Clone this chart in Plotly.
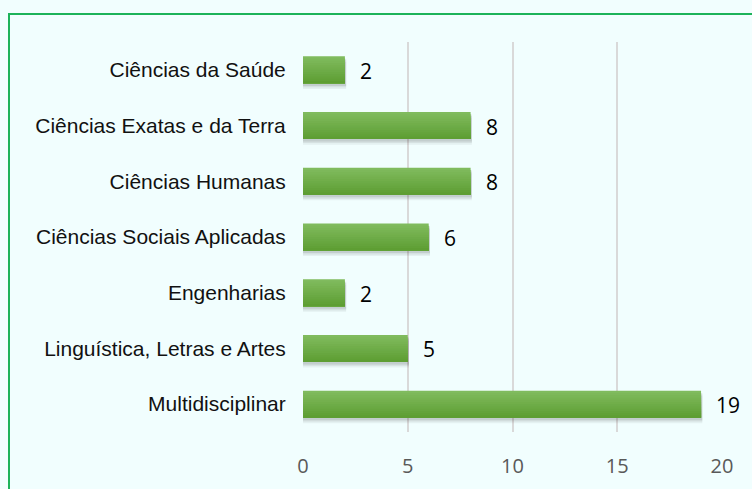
import plotly.graph_objects as go

categories = ["Ciências da Saúde", "Ciências Exatas e da Terra", "Ciências Humanas",
              "Ciências Sociais Aplicadas", "Engenharias", "Linguística, Letras e Artes",
              "Multidisciplinar"]
values = [2, 8, 8, 6, 2, 5, 19]
x_ticks = [0, 5, 10, 15, 20]

W, H = 752, 489
L, R, T, B = 303, 30, 42, 57
pw, ph = W - L - R, H - T - B

pos = list(range(len(categories)))
BW = 0.485

fig = go.Figure()
# soft shadow (a few translucent layers)
for dy, a in [(0.10, 0.06), (0.07, 0.08), (0.045, 0.10)]:
    fig.add_trace(go.Bar(
        x=[v + 0.06 for v in values], y=pos, orientation="h", width=BW,
        offset=-BW / 2 + dy,
        marker=dict(color=f"rgba(40,40,40,{a})", line=dict(width=0)),
        hoverinfo="skip", showlegend=False,
    ))

# gradient bar: each layer runs from its start down to the bar bottom (no seams)
n = 12
c_top = (0x80, 0xBB, 0x5E)
c_bot = (0x5E, 0x9E, 0x33)
for k in range(n):
    t = k / (n - 1)
    col = tuple(round(c_top[j] + (c_bot[j] - c_top[j]) * t) for j in range(3))
    start = k * BW / n
    fig.add_trace(go.Bar(
        x=values, y=pos, orientation="h", width=BW - start,
        offset=-BW / 2 + start,
        marker=dict(color="rgb(%d,%d,%d)" % col, line=dict(width=0)),
        hoverinfo="skip", showlegend=False,
    ))

annotations = [dict(x=v, y=p, xref="x", yref="y", text=str(v), showarrow=False,
                    xanchor="left", yanchor="middle", xshift=13, yshift=-1,
                    font=dict(family="Open Sans", size=21, color="#000000"))
               for v, p in zip(values, pos)]

fig.update_layout(
    width=W, height=H, barmode="overlay",
    margin=dict(l=L, r=R, t=T, b=B, autoexpand=False),
    paper_bgcolor="#F1FEFE", plot_bgcolor="#F1FEFE",
    xaxis=dict(range=[0, 20], tickvals=x_ticks, showgrid=True, gridcolor="#D9D9D9",
               gridwidth=2, zeroline=False, showline=False,
               tickfont=dict(family="Open Sans", size=20, color="#595959"),
               ticks="outside", ticklen=16, tickcolor="rgba(0,0,0,0)"),
    yaxis=dict(range=[6.5, -0.5], tickvals=pos, ticktext=categories, showgrid=False,
               zeroline=False, ticks="outside", ticklen=12, tickcolor="rgba(0,0,0,0)",
               tickfont=dict(family="Liberation Sans", size=21, color="#111111")),
    annotations=annotations,
    shapes=[dict(type="rect", xref="paper", yref="paper",
                 x0=(9 - L) / pw, x1=2, y0=-1, y1=(H - B - 14) / ph,
                 line=dict(color="#1DB35A", width=2), fillcolor="rgba(0,0,0,0)")],
)
fig.write_html("out.html")
